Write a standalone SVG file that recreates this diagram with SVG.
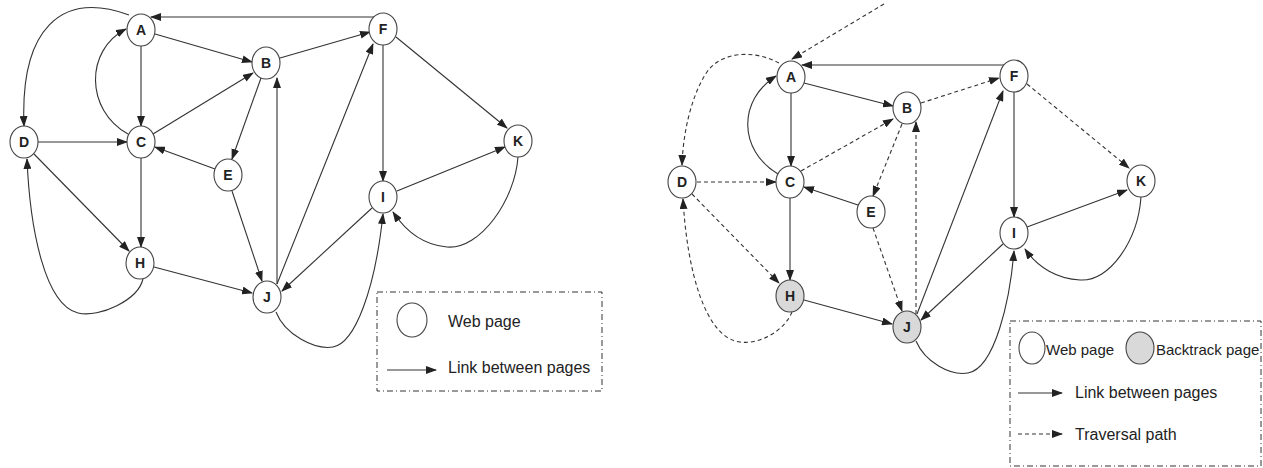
<svg xmlns="http://www.w3.org/2000/svg" width="1263" height="468" viewBox="0 0 1263 468">
<style>
.n ellipse{fill:#fff;stroke:#444;stroke-width:1.1}
.n.g ellipse{fill:#d9d9d9}
.n text{font-family:"Liberation Sans",Arial,sans-serif;font-weight:bold;font-size:14px;fill:#222;text-anchor:middle}
.e path{fill:none;stroke:#333;stroke-width:1.1;marker-end:url(#ah)}
.e path.d{stroke-dasharray:4 3}
.lg rect{fill:none;stroke:#333;stroke-width:1;stroke-dasharray:6 3 1 3}
.lg text{font-family:"Liberation Sans",Arial,sans-serif;font-size:16px;fill:#222}
</style>
<defs>
<marker id="ah" markerWidth="11" markerHeight="8" refX="10" refY="4" orient="auto" markerUnits="userSpaceOnUse">
<path d="M0,0 L11,4 L0,8 Z" fill="#222"/>
</marker>
</defs>
<g id="left-edges" class="e">
<path d="M374,17 L151,17"/>
<path d="M129,15 C60,-10 20,30 24,126"/>
<path d="M128,134 C85,110 85,50 126,29"/>
<path d="M155,34 L252,62"/>
<path d="M141,46 L141,126"/>
<path d="M38,142 L127,142"/>
<path d="M153,134 L253,73"/>
<path d="M261,78 L232,159"/>
<path d="M215,169 L155,147"/>
<path d="M232,191 L262,281"/>
<path d="M277,284 L277,78"/>
<path d="M277,284 L373,44"/>
<path d="M280,58 L370,32"/>
<path d="M383,45 L383,181"/>
<path d="M396,37 L507,128"/>
<path d="M397,191 L505,147"/>
<path d="M518,157 C515,200 480,250 447,247 C422,245 405,230 393,212"/>
<path d="M276,312 C285,335 315,350 333,347 C355,343 375,290 383,214"/>
<path d="M372,208 L282,291"/>
<path d="M154,267 L252,293"/>
<path d="M141,158 L141,247"/>
<path d="M34,154 L129,251"/>
<path d="M143,279 C138,300 100,318 78,313 C45,305 30,230 27,159"/>
</g>
<g id="L-A" class="n"><ellipse cx="141" cy="30" rx="14" ry="16"/><text x="141" y="35">A</text></g>
<g id="L-B" class="n"><ellipse cx="266" cy="63" rx="14" ry="16"/><text x="266" y="68">B</text></g>
<g id="L-C" class="n"><ellipse cx="141" cy="142" rx="14" ry="16"/><text x="141" y="147">C</text></g>
<g id="L-D" class="n"><ellipse cx="24" cy="142" rx="14" ry="16"/><text x="24" y="147">D</text></g>
<g id="L-E" class="n"><ellipse cx="228" cy="175" rx="14" ry="16"/><text x="228" y="180">E</text></g>
<g id="L-F" class="n"><ellipse cx="383" cy="29" rx="14" ry="16"/><text x="383" y="34">F</text></g>
<g id="L-K" class="n"><ellipse cx="518" cy="141" rx="14" ry="16"/><text x="518" y="146">K</text></g>
<g id="L-I" class="n"><ellipse cx="383" cy="197" rx="14" ry="16"/><text x="383" y="202">I</text></g>
<g id="L-H" class="n"><ellipse cx="140" cy="263" rx="14" ry="16"/><text x="140" y="268">H</text></g>
<g id="L-J" class="n"><ellipse cx="267" cy="297" rx="14" ry="16"/><text x="267" y="302">J</text></g>
<g id="left-legend" class="lg">
<rect x="377" y="292" width="225" height="99"/>
<ellipse cx="412" cy="320" rx="15" ry="17" fill="#fff" stroke="#444" stroke-width="1.1"/>
<text x="448" y="327">Web page</text>
<path d="M387,370 L436,370" stroke="#333" stroke-width="1.1" marker-end="url(#ah)"/>
<text x="448" y="373">Link between pages</text>
</g>
<g id="right-edges" class="e">
<path class="d" d="M884,4 L792,59"/>
<path class="d" d="M779,63 C755,50 720,50 705,75 C690,100 683,135 682,165"/>
<path d="M1004,65 L802,65"/>
<path d="M804,83 L893,106"/>
<path d="M791,93 L791,166"/>
<path d="M778,174 C738,150 738,100 776,76"/>
<path class="d" d="M697,182 L776,182"/>
<path class="d" d="M801,171 L893,119"/>
<path class="d" d="M902,124 L873,196"/>
<path d="M858,205 L804,187"/>
<path class="d" d="M873,228 L902,311"/>
<path class="d" d="M916,314 L916,122"/>
<path d="M917,314 L1003,91"/>
<path class="d" d="M921,103 L999,78"/>
<path d="M1014,92 L1014,217"/>
<path class="d" d="M1027,84 L1129,168"/>
<path d="M1027,227 L1127,190"/>
<path d="M1141,197 C1138,240 1110,282 1080,280 C1058,279 1038,268 1025,249"/>
<path d="M916,341 C925,362 950,376 968,373 C995,368 1010,300 1014,251"/>
<path d="M1003,244 L921,320"/>
<path d="M804,300 L892,324"/>
<path d="M790,198 L790,280"/>
<path class="d" d="M692,194 L779,283"/>
<path class="d" d="M792,312 C785,330 760,345 740,342 C705,338 687,270 683,199"/>
</g>
<g id="R-A" class="n"><ellipse cx="791" cy="77" rx="14" ry="16"/><text x="791" y="82">A</text></g>
<g id="R-B" class="n"><ellipse cx="907" cy="108" rx="14" ry="16"/><text x="907" y="113">B</text></g>
<g id="R-C" class="n"><ellipse cx="790" cy="182" rx="14" ry="16"/><text x="790" y="187">C</text></g>
<g id="R-D" class="n"><ellipse cx="682" cy="182" rx="14" ry="16"/><text x="682" y="187">D</text></g>
<g id="R-E" class="n"><ellipse cx="871" cy="212" rx="14" ry="16"/><text x="871" y="217">E</text></g>
<g id="R-F" class="n"><ellipse cx="1014" cy="76" rx="14" ry="16"/><text x="1014" y="81">F</text></g>
<g id="R-K" class="n"><ellipse cx="1141" cy="181" rx="14" ry="16"/><text x="1141" y="186">K</text></g>
<g id="R-I" class="n"><ellipse cx="1014" cy="233" rx="14" ry="16"/><text x="1014" y="238">I</text></g>
<g id="R-H" class="n g"><ellipse cx="790" cy="296" rx="14" ry="16"/><text x="790" y="301">H</text></g>
<g id="R-J" class="n g"><ellipse cx="907" cy="327" rx="14" ry="16"/><text x="907" y="332">J</text></g>
<g id="right-legend" class="lg">
<rect x="1010" y="321" width="251" height="145"/>
<ellipse cx="1032" cy="348" rx="13" ry="16" fill="#fff" stroke="#444" stroke-width="1.1"/>
<text x="1046" y="355" style="font-size:15px">Web page</text>
<ellipse cx="1140" cy="348" rx="14" ry="16" fill="#d9d9d9" stroke="#444" stroke-width="1.1"/>
<text x="1156" y="355" style="font-size:15px">Backtrack page</text>
<path d="M1018,393 L1062,393" stroke="#333" stroke-width="1.1" marker-end="url(#ah)"/>
<text x="1075" y="398">Link between pages</text>
<path d="M1018,434 L1062,434" stroke="#333" stroke-width="1.1" stroke-dasharray="4 3" marker-end="url(#ah)"/>
<text x="1075" y="440">Traversal path</text>
</g>
</svg>
